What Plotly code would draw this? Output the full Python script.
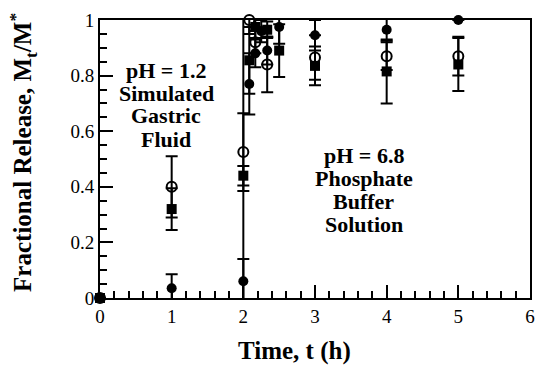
import plotly.graph_objects as go

# ---- data ----
t_filled = [0, 1, 2, 2.083, 2.167, 2.25, 2.333, 2.5, 3, 4, 5]
v_filled = [0, 0.035, 0.06, 0.77, 0.88, 0.96, 0.89, 0.975, 0.945, 0.965, 1.0]
e_filled = [0, 0.05, 0.08, 0.11, 0.05, 0.04, 0.05, 0.06, 0.055, 0.04, 0.0]

t_open = [0, 1, 2, 2.083, 2.167, 2.333, 3, 4, 5]
v_open = [0, 0.40, 0.525, 1.0, 0.92, 0.84, 0.865, 0.87, 0.87]
e_open = [0, 0.11, 0.14, 0.05, 0.04, 0.10, 0.08, 0.05, 0.07]

t_square = [0, 1, 2, 2.083, 2.167, 2.333, 2.5, 3, 4, 5]
v_square = [0, 0.32, 0.44, 0.855, 0.975, 0.965, 0.89, 0.835, 0.815, 0.84]
e_square = [0, 0.075, 0.035, 0.12, 0.04, 0.03, 0.095, 0.07, 0.115, 0.095]

ph_switch_time = 2
x_range = [0, 6]
y_range = [0, 1]

left_lines = ["pH = 1.2", "Simulated", "Gastric", "Fluid"]
right_lines = ["pH = 6.8", "Phosphate", "Buffer", "Solution"]

FONT = "Liberation Serif"

fig = go.Figure()

fig.add_trace(go.Scatter(x=[ph_switch_time, ph_switch_time], y=y_range, mode="lines",
                         line=dict(color="black", width=2), showlegend=False,
                         hoverinfo="skip"))

err_style = dict(type="data", visible=True, color="black", thickness=2, width=6)

fig.add_trace(go.Scatter(x=t_open, y=v_open, mode="markers",
                         marker=dict(symbol="circle-open", size=10, color="black",
                                     line=dict(width=2, color="black")),
                         error_y=dict(array=e_open, **err_style),
                         showlegend=False, cliponaxis=False))
fig.add_trace(go.Scatter(x=t_square, y=v_square, mode="markers",
                         marker=dict(symbol="square", size=10, color="black"),
                         error_y=dict(array=e_square, **err_style),
                         showlegend=False, cliponaxis=False))
fig.add_trace(go.Scatter(x=t_filled, y=v_filled, mode="markers",
                         marker=dict(symbol="circle", size=10, color="black"),
                         error_y=dict(array=e_filled, **err_style),
                         showlegend=False, cliponaxis=False))

W, H = 538, 367
ml, mr, mt, mb = 100, 3, 20, 69
pw, ph = W - ml - mr, H - mt - mb


def px_to_paper(px, py):
    return (px - ml) / pw, (H - mb - py) / ph


def ann(px, py, text, size, **kw):
    xx, yy = px_to_paper(px, py)
    return dict(x=xx, y=yy, xref="paper", yref="paper", xanchor="center",
                yanchor="middle", text=text, showarrow=False,
                font=dict(family=FONT, size=size, color="black"), **kw)


annotations = []
left_py = [70, 93, 116, 139]
right_py = [155, 178, 201, 224]
for txt, py in zip(left_lines, left_py):
    annotations.append(ann(167, py, f"<b>{txt}</b>", 22))
for txt, py in zip(right_lines, right_py):
    annotations.append(ann(367, py, f"<b>{txt}</b>", 22))

annotations.append(ann(297, 351, "<b>Time, t (h)</b>", 25))
annotations.append(ann(22, 152, "<b>Fractional Release, M<sub>t</sub>/M<sup>*</sup></b>", 25,
                       textangle=-90))

fig.update_layout(
    width=W, height=H,
    margin=dict(l=ml, r=mr, t=mt, b=mb),
    plot_bgcolor="white",
    annotations=annotations,
    xaxis=dict(range=x_range, ticks="inside", ticklen=13, tickwidth=2, tickcolor="black",
               showline=True, linecolor="black", linewidth=2, mirror=True, showgrid=False,
               tickfont=dict(family=FONT, size=19, color="black"),
               minor=dict(dtick=0.2, ticks="inside", ticklen=7, tickwidth=2,
                          tickcolor="black")),
    yaxis=dict(range=y_range, ticks="inside", ticklen=13, tickwidth=2, tickcolor="black",
               showline=True, linecolor="black", linewidth=2, mirror=True, showgrid=False,
               tickfont=dict(family=FONT, size=19, color="black"),
               minor=dict(dtick=0.05, ticks="inside", ticklen=7, tickwidth=2,
                          tickcolor="black")),
)

fig.write_html("out.html")
